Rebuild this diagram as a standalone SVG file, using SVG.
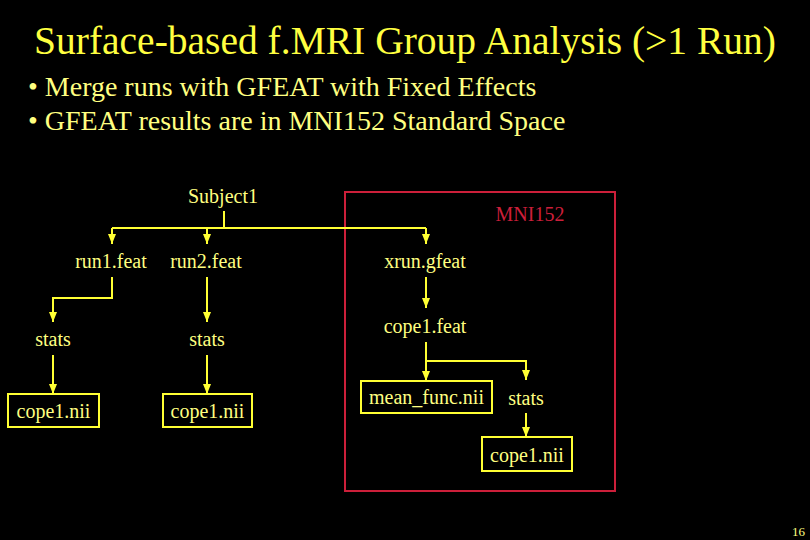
<svg xmlns="http://www.w3.org/2000/svg" width="810" height="540" viewBox="0 0 810 540">
<defs>
<marker id="ah" viewBox="0 0 10 10" refX="10" refY="5" markerWidth="10" markerHeight="10" markerUnits="userSpaceOnUse" orient="auto">
<path d="M0,1 L10,5 L0,9 Z" fill="#ffff33"/>
</marker>
</defs>
<style>
text{fill:#ffff80}
.n{font-size:20px;text-anchor:middle}
.box{fill:none;stroke:#ffff33;stroke-width:2}
.c{fill:none;stroke:#ffff33;stroke-width:2}
</style>
<rect width="810" height="540" fill="#000"/>
<g font-family="Liberation Serif, Times New Roman, serif">
<text x="405" y="54" font-size="39.5" text-anchor="middle" style="fill:#ffff40">Surface-based f.MRI Group Analysis (&gt;1 Run)</text>
<text x="28" y="96" font-size="28">• Merge runs with GFEAT with Fixed Effects</text>
<text x="28" y="130" font-size="28">• GFEAT results are in MNI152 Standard Space</text>
<g id="mni152">
<rect x="345" y="192" width="270" height="299" fill="none" stroke="#cc1f3a" stroke-width="2"/>
<text x="530" y="221" class="n" style="fill:#cc1f3a">MNI152</text>
</g>
<g id="subject1"><text x="223" y="203" class="n">Subject1</text></g>
<g id="run1"><text x="111" y="268" class="n">run1.feat</text></g>
<g id="run2"><text x="206" y="268" class="n">run2.feat</text></g>
<g id="stats1"><text x="53" y="346" class="n">stats</text></g>
<g id="stats2"><text x="207" y="346" class="n">stats</text></g>
<g id="cope1a"><rect x="8" y="394" width="91" height="33" class="box"/><text x="53.5" y="418" class="n">cope1.nii</text></g>
<g id="cope1b"><rect x="163" y="394" width="89" height="33" class="box"/><text x="207.5" y="418" class="n">cope1.nii</text></g>
<g id="xrun"><text x="425" y="268" class="n">xrun.gfeat</text></g>
<g id="cope1feat"><text x="425" y="333" class="n">cope1.feat</text></g>
<g id="meanfunc"><rect x="361" y="381" width="131" height="32" class="box"/><text x="426.5" y="404" class="n">mean_func.nii</text></g>
<g id="stats3"><text x="526" y="405" class="n">stats</text></g>
<g id="cope1c"><rect x="482" y="437" width="90" height="34" class="box"/><text x="527" y="462" class="n">cope1.nii</text></g>
<text x="805" y="536" font-size="13" text-anchor="end">16</text>
</g>
<g id="connectors">
<path class="c" d="M224,211 V228"/>
<path class="c" d="M112,228 H426"/>
<path class="c" d="M112,228 V244" marker-end="url(#ah)"/>
<path class="c" d="M207,228 V244" marker-end="url(#ah)"/>
<path class="c" d="M426,228 V244" marker-end="url(#ah)"/>
<path class="c" d="M112,277 V298 H53 V322" marker-end="url(#ah)"/>
<path class="c" d="M207,277 V322" marker-end="url(#ah)"/>
<path class="c" d="M53,355 V394" marker-end="url(#ah)"/>
<path class="c" d="M207,355 V394" marker-end="url(#ah)"/>
<path class="c" d="M426,277 V308" marker-end="url(#ah)"/>
<path class="c" d="M426,342 V381" marker-end="url(#ah)"/>
<path class="c" d="M426,361 H526 V380" marker-end="url(#ah)"/>
<path class="c" d="M526,413 V437" marker-end="url(#ah)"/>
</g>
</svg>
